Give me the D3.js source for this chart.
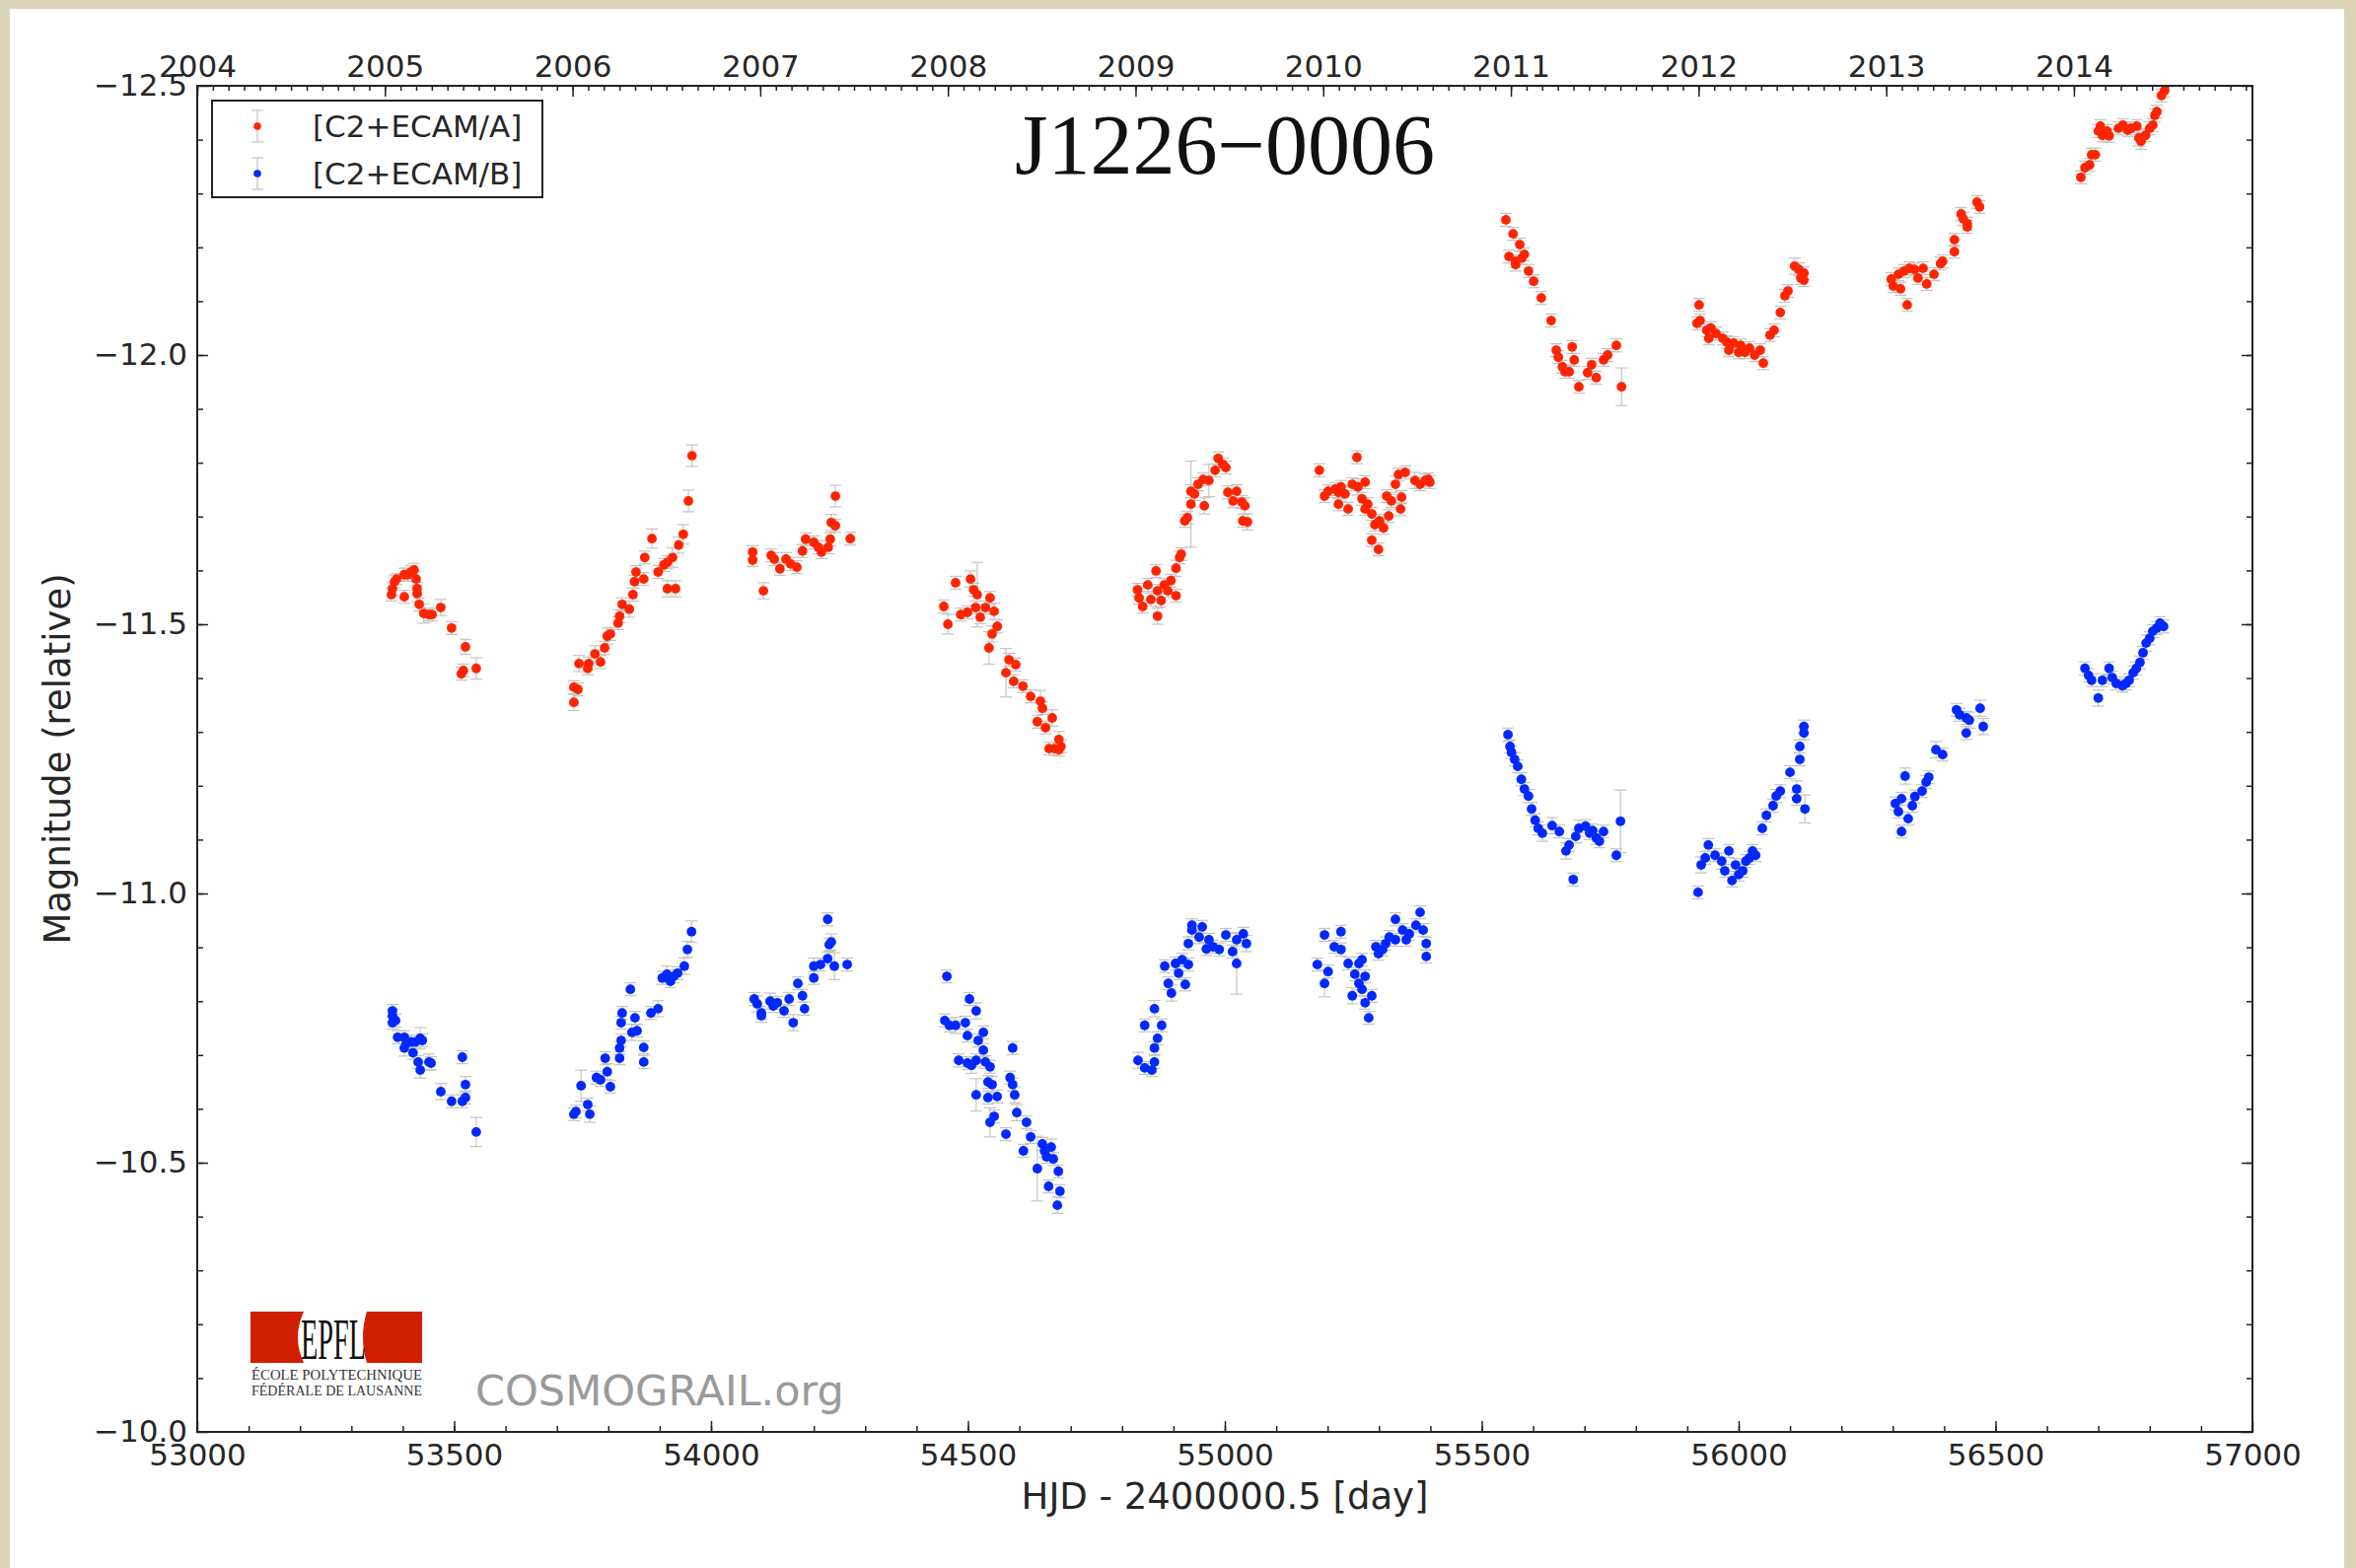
<!DOCTYPE html>
<html>
<head>
<meta charset="utf-8">
<script src="https://cdn.jsdelivr.net/npm/d3@7"></script>
<style>
  html, body { margin: 0; padding: 0; background: #dcd3b3; }
  svg { display: block; }
</style>
</head>
<body>
<svg id="chart" width="2389" height="1590"></svg>
<script>
// light curve of quasar image A: [HJD - 2400000.5, magnitude, error]
const imageA = [
  // 2005
  [53378,-11.555,0.012],[53380,-11.566,0.012],[53384,-11.579,0.012],[53388,-11.584,0.010],[53403,-11.592,0.012],
  [53409,-11.592,0.012],[53416,-11.597,0.012],[53422,-11.601,0.012],[53426,-11.584,0.015],[53403,-11.551,0.012],
  [53428,-11.566,0.012],[53428,-11.557,0.015],[53432,-11.537,0.012],[53441,-11.520,0.018],[53451,-11.518,0.012],
  [53457,-11.518,0.012],[53474,-11.531,0.015],[53495,-11.493,0.012],[53522,-11.458,0.014],[53514,-11.408,0.012],
  [53518,-11.414,0.012],[53543,-11.418,0.020],
  // 2006
  [53733,-11.355,0.015],[53733,-11.383,0.012],[53741,-11.379,0.012],[53743,-11.427,0.015],[53760,-11.418,0.012],
  [53762,-11.427,0.012],[53774,-11.445,0.015],[53785,-11.430,0.012],[53793,-11.456,0.012],[53798,-11.478,0.015],
  [53804,-11.482,0.012],[53819,-11.502,0.012],[53822,-11.515,0.012],[53827,-11.537,0.012],[53841,-11.528,0.015],
  [53848,-11.555,0.012],[53851,-11.579,0.012],[53854,-11.597,0.012],[53869,-11.584,0.012],[53871,-11.624,0.012],
  [53885,-11.659,0.018],[53897,-11.597,0.012],[53908,-11.610,0.012],[53915,-11.615,0.012],[53925,-11.624,0.018],
  [53915,-11.566,0.015],[53931,-11.566,0.015],[53937,-11.647,0.015],[53946,-11.667,0.018],[53956,-11.729,0.020],
  [53963,-11.813,0.020],
  // 2007
  [54081,-11.619,0.012],[54081,-11.634,0.012],[54102,-11.562,0.015],[54117,-11.628,0.012],[54123,-11.621,0.012],
  [54134,-11.603,0.012],[54146,-11.621,0.012],[54155,-11.612,0.012],[54167,-11.606,0.012],[54178,-11.636,0.012],
  [54184,-11.658,0.012],[54200,-11.652,0.012],[54209,-11.643,0.012],[54215,-11.634,0.012],[54228,-11.643,0.012],
  [54232,-11.658,0.012],[54234,-11.689,0.015],[54242,-11.683,0.012],[54242,-11.738,0.020],[54271,-11.659,0.012],
  // 2008
  [54453,-11.533,0.012],[54461,-11.500,0.018],[54476,-11.577,0.012],[54486,-11.518,0.012],[54499,-11.522,0.012],
  [54505,-11.584,0.015],[54511,-11.564,0.012],[54518,-11.555,0.060],[54515,-11.531,0.012],[54524,-11.513,0.012],
  [54534,-11.531,0.012],[54543,-11.549,0.012],[54551,-11.524,0.015],[54557,-11.496,0.012],[54547,-11.482,0.015],
  [54541,-11.456,0.030],[54580,-11.434,0.012],[54593,-11.425,0.012],[54574,-11.410,0.045],[54589,-11.394,0.012],
  [54607,-11.385,0.012],[54622,-11.366,0.012],[54641,-11.357,0.020],[54645,-11.344,0.012],[54664,-11.326,0.015],
  [54635,-11.319,0.012],[54651,-11.308,0.012],[54658,-11.269,0.012],[54677,-11.286,0.015],[54677,-11.267,0.012],
  [54668,-11.269,0.012],[54681,-11.273,0.012],
  // 2009
  [54830,-11.564,0.012],[54833,-11.549,0.012],[54840,-11.533,0.012],[54850,-11.573,0.012],[54856,-11.546,0.012],
  [54866,-11.599,0.012],[54869,-11.515,0.015],[54869,-11.562,0.012],[54876,-11.544,0.012],[54882,-11.573,0.012],
  [54889,-11.562,0.012],[54895,-11.581,0.012],[54905,-11.553,0.012],[54905,-11.604,0.015],[54912,-11.624,0.012],
  [54915,-11.630,0.012],[54922,-11.692,0.012],[54927,-11.698,0.012],[54934,-11.723,0.080],[54934,-11.747,0.012],
  [54941,-11.742,0.012],[54948,-11.760,0.012],[54960,-11.720,0.015],[54958,-11.769,0.012],[54969,-11.767,0.030],
  [54981,-11.786,0.012],[54987,-11.808,0.012],[54996,-11.797,0.012],[55002,-11.791,0.012],[55006,-11.745,0.012],
  [55023,-11.747,0.012],[55016,-11.729,0.012],[55033,-11.727,0.012],[55039,-11.720,0.015],[55035,-11.692,0.012],
  [55044,-11.690,0.015],
  // 2010
  [55184,-11.786,0.012],[55194,-11.738,0.012],[55201,-11.747,0.012],[55215,-11.751,0.012],[55221,-11.745,0.012],
  [55226,-11.755,0.012],[55234,-11.742,0.015],[55221,-11.723,0.012],[55240,-11.714,0.012],[55248,-11.760,0.012],
  [55257,-11.810,0.012],[55259,-11.755,0.015],[55267,-11.733,0.012],[55273,-11.764,0.012],[55273,-11.714,0.012],
  [55278,-11.723,0.012],[55286,-11.705,0.012],[55292,-11.685,0.012],[55286,-11.656,0.012],[55299,-11.639,0.012],
  [55301,-11.692,0.012],[55309,-11.679,0.012],[55319,-11.701,0.012],[55315,-11.738,0.012],[55324,-11.729,0.012],
  [55332,-11.760,0.015],[55338,-11.778,0.012],[55342,-11.714,0.012],[55344,-11.736,0.012],[55351,-11.782,0.012],
  [55370,-11.767,0.015],[55380,-11.760,0.012],[55390,-11.767,0.012],[55399,-11.764,0.012],[55396,-11.769,0.012],
  // 2011
  [55547,-12.251,0.012],[55561,-12.225,0.012],[55574,-12.205,0.012],[55553,-12.183,0.012],[55566,-12.174,0.012],
  [55583,-12.187,0.012],[55578,-12.180,0.012],[55566,-12.168,0.012],[55591,-12.156,0.012],[55601,-12.137,0.012],
  [55616,-12.106,0.012],[55635,-12.064,0.012],[55645,-12.009,0.012],[55649,-11.996,0.012],[55657,-11.978,0.012],
  [55662,-11.969,0.012],[55676,-12.015,0.012],[55680,-11.991,0.012],[55670,-11.969,0.012],[55689,-11.941,0.012],
  [55706,-11.967,0.012],[55714,-11.982,0.012],[55723,-11.958,0.012],[55737,-11.991,0.012],[55745,-12.000,0.012],
  [55762,-12.018,0.012],[55772,-11.941,0.035],
  // 2012
  [55923,-12.093,0.012],[55925,-12.064,0.012],[55919,-12.059,0.012],[55938,-12.046,0.012],[55946,-12.050,0.012],
  [55942,-12.031,0.012],[55956,-12.040,0.012],[55969,-12.031,0.012],[55977,-12.024,0.012],[55981,-12.009,0.012],
  [55990,-12.022,0.012],[56000,-12.005,0.012],[56004,-12.018,0.012],[56012,-12.005,0.012],[56021,-12.013,0.012],
  [56031,-12.000,0.012],[56042,-12.009,0.012],[56048,-11.985,0.012],[56061,-12.037,0.012],[56069,-12.046,0.012],
  [56081,-12.079,0.012],[56090,-12.110,0.012],[56096,-12.119,0.012],[56109,-12.165,0.015],[56117,-12.159,0.012],
  [56127,-12.152,0.012],[56121,-12.143,0.012],[56127,-12.139,0.012],
  // 2013
  [56297,-12.141,0.012],[56301,-12.128,0.012],[56311,-12.150,0.012],[56315,-12.123,0.012],[56322,-12.156,0.012],
  [56332,-12.161,0.012],[56328,-12.093,0.012],[56342,-12.159,0.012],[56349,-12.143,0.012],[56359,-12.161,0.012],
  [56366,-12.132,0.012],[56380,-12.150,0.012],[56393,-12.170,0.012],[56397,-12.174,0.012],[56420,-12.192,0.012],
  [56420,-12.214,0.012],[56433,-12.262,0.012],[56437,-12.253,0.012],[56445,-12.244,0.012],[56445,-12.238,0.012],
  [56464,-12.284,0.012],[56469,-12.275,0.012],
  // 2014
  [56666,-12.330,0.012],[56674,-12.348,0.012],[56683,-12.353,0.012],[56687,-12.372,0.012],[56694,-12.372,0.012],
  [56700,-12.416,0.012],[56704,-12.425,0.012],[56708,-12.408,0.012],[56717,-12.416,0.012],[56721,-12.407,0.012],
  [56739,-12.421,0.012],[56748,-12.427,0.012],[56757,-12.418,0.012],[56764,-12.421,0.012],[56775,-12.425,0.012],
  [56779,-12.403,0.015],[56783,-12.397,0.015],[56792,-12.408,0.012],[56800,-12.421,0.012],[56806,-12.427,0.012],
  [56810,-12.445,0.012],[56814,-12.452,0.012],[56823,-12.482,0.012],[56829,-12.491,0.012]
];

// light curve of quasar image B
const imageB = [
  // 2005
  [53380,-10.782,0.012],[53380,-10.773,0.012],[53386,-10.764,0.012],[53380,-10.760,0.012],[53390,-10.733,0.012],
  [53403,-10.733,0.012],[53407,-10.722,0.012],[53403,-10.713,0.015],[53416,-10.724,0.012],[53424,-10.724,0.012],
  [53434,-10.731,0.020],[53438,-10.727,0.012],[53420,-10.704,0.012],[53430,-10.687,0.012],[53434,-10.672,0.015],
  [53451,-10.687,0.015],[53455,-10.685,0.012],[53474,-10.632,0.015],[53495,-10.614,0.012],[53516,-10.696,0.012],
  [53522,-10.645,0.015],[53522,-10.621,0.012],[53516,-10.614,0.012],[53543,-10.557,0.027],
  // 2006
  [53733,-10.590,0.012],[53737,-10.595,0.012],[53760,-10.608,0.012],[53764,-10.590,0.015],[53747,-10.643,0.029],
  [53777,-10.658,0.012],[53785,-10.654,0.012],[53798,-10.669,0.015],[53804,-10.641,0.012],[53794,-10.694,0.012],
  [53822,-10.694,0.012],[53822,-10.713,0.012],[53825,-10.727,0.012],[53825,-10.760,0.012],[53827,-10.778,0.012],
  [53843,-10.822,0.012],[53846,-10.742,0.015],[53852,-10.769,0.012],[53856,-10.745,0.012],[53869,-10.714,0.012],
  [53869,-10.687,0.012],[53883,-10.778,0.012],[53897,-10.786,0.015],[53905,-10.843,0.012],[53914,-10.850,0.015],
  [53921,-10.837,0.012],[53927,-10.846,0.012],[53935,-10.852,0.012],[53948,-10.865,0.015],[53954,-10.896,0.015],
  [53962,-10.929,0.020],
  // 2007
  [54084,-10.804,0.012],[54090,-10.795,0.015],[54098,-10.778,0.012],[54098,-10.773,0.012],[54115,-10.800,0.015],
  [54121,-10.791,0.012],[54129,-10.797,0.012],[54142,-10.782,0.012],[54152,-10.804,0.012],[54160,-10.760,0.015],
  [54169,-10.833,0.012],[54178,-10.810,0.012],[54182,-10.786,0.012],[54200,-10.865,0.015],[54200,-10.843,0.012],
  [54213,-10.868,0.012],[54227,-10.879,0.012],[54230,-10.905,0.012],[54234,-10.910,0.015],[54240,-10.865,0.025],
  [54227,-10.952,0.012],[54265,-10.868,0.012],
  // 2008
  [54459,-10.846,0.012],[54455,-10.764,0.012],[54464,-10.755,0.012],[54476,-10.755,0.015],[54495,-10.760,0.012],
  [54499,-10.736,0.012],[54503,-10.804,0.012],[54516,-10.782,0.015],[54482,-10.690,0.012],[54499,-10.685,0.012],
  [54507,-10.681,0.015],[54516,-10.690,0.012],[54530,-10.709,0.012],[54534,-10.687,0.012],[54543,-10.678,0.012],
  [54520,-10.727,0.012],[54530,-10.742,0.012],[54539,-10.650,0.012],[54547,-10.645,0.015],[54516,-10.626,0.030],
  [54539,-10.621,0.012],[54557,-10.623,0.012],[54543,-10.575,0.027],[54551,-10.586,0.012],[54574,-10.553,0.012],
  [54582,-10.658,0.012],[54587,-10.645,0.012],[54591,-10.626,0.015],[54587,-10.713,0.012],[54595,-10.593,0.015],
  [54614,-10.575,0.012],[54622,-10.548,0.012],[54608,-10.522,0.012],[54635,-10.489,0.060],[54645,-10.535,0.012],
  [54649,-10.522,0.012],[54653,-10.511,0.012],[54662,-10.529,0.015],[54666,-10.507,0.012],[54657,-10.456,0.012],
  [54676,-10.484,0.012],[54679,-10.447,0.012],[54674,-10.421,0.015],
  // 2009
  [54831,-10.690,0.015],[54844,-10.676,0.012],[54858,-10.672,0.012],[54863,-10.687,0.012],[54863,-10.713,0.012],
  [54869,-10.731,0.012],[54877,-10.755,0.012],[54863,-10.786,0.015],[54844,-10.755,0.012],[54890,-10.833,0.012],
  [54896,-10.815,0.015],[54883,-10.865,0.012],[54904,-10.870,0.012],[54917,-10.877,0.012],[54929,-10.868,0.012],
  [54910,-10.852,0.012],[54923,-10.831,0.012],[54929,-10.907,0.012],[54936,-10.932,0.012],[54936,-10.941,0.012],
  [54956,-10.938,0.012],[54950,-10.919,0.012],[54969,-10.914,0.012],[54964,-10.897,0.012],[54977,-10.901,0.012],
  [54989,-10.896,0.012],[55002,-10.923,0.012],[55023,-10.914,0.012],[55036,-10.925,0.012],[55042,-10.907,0.015],
  [55015,-10.892,0.012],[55023,-10.870,0.057],
  // 2010
  [55180,-10.868,0.012],[55194,-10.833,0.025],[55194,-10.923,0.012],[55201,-10.855,0.012],[55226,-10.929,0.012],
  [55213,-10.901,0.012],[55226,-10.896,0.012],[55240,-10.870,0.012],[55248,-10.810,0.015],[55253,-10.850,0.012],
  [55261,-10.833,0.012],[55261,-10.870,0.012],[55267,-10.877,0.012],[55267,-10.822,0.012],[55273,-10.797,0.012],
  [55280,-10.769,0.012],[55273,-10.846,0.012],[55286,-10.810,0.012],[55294,-10.901,0.012],[55299,-10.888,0.012],
  [55307,-10.896,0.012],[55313,-10.907,0.012],[55320,-10.919,0.012],[55332,-10.914,0.012],[55332,-10.952,0.012],
  [55346,-10.932,0.012],[55353,-10.914,0.012],[55359,-10.925,0.012],[55372,-10.941,0.012],[55380,-10.965,0.012],
  [55386,-10.932,0.012],[55392,-10.907,0.012],[55392,-10.883,0.012],
  // 2011
  [55551,-11.295,0.012],[55555,-11.273,0.012],[55558,-11.262,0.012],[55564,-11.249,0.012],[55570,-11.236,0.012],
  [55577,-11.212,0.012],[55583,-11.194,0.012],[55591,-11.181,0.012],[55597,-11.157,0.012],[55604,-11.136,0.012],
  [55610,-11.121,0.012],[55618,-11.112,0.015],[55637,-11.126,0.015],[55651,-11.115,0.012],[55664,-11.079,0.015],
  [55670,-11.090,0.012],[55678,-11.026,0.012],[55683,-11.106,0.012],[55689,-11.121,0.015],[55702,-11.125,0.012],
  [55710,-11.112,0.012],[55716,-11.117,0.012],[55723,-11.103,0.012],[55729,-11.097,0.012],[55737,-11.115,0.012],
  [55762,-11.071,0.012],[55770,-11.134,0.058],
  // 2012
  [55921,-11.002,0.012],[55927,-11.053,0.015],[55935,-11.066,0.012],[55941,-11.090,0.012],[55954,-11.071,0.012],
  [55967,-11.060,0.015],[55973,-11.042,0.012],[55981,-11.079,0.012],[55987,-11.024,0.012],[55994,-11.053,0.012],
  [56000,-11.035,0.012],[56008,-11.042,0.012],[56014,-11.060,0.012],[56021,-11.066,0.012],[56027,-11.079,0.012],
  [56033,-11.071,0.012],[56046,-11.121,0.012],[56054,-11.145,0.012],[56067,-11.163,0.012],[56073,-11.181,0.012],
  [56081,-11.190,0.012],[56100,-11.225,0.012],[56113,-11.194,0.015],[56113,-11.176,0.012],[56119,-11.249,0.012],
  [56119,-11.273,0.012],[56127,-11.298,0.012],[56127,-11.310,0.012],[56129,-11.157,0.026],
  // 2013
  [56305,-11.167,0.012],[56311,-11.152,0.012],[56317,-11.176,0.012],[56317,-11.115,0.012],[56324,-11.218,0.015],
  [56330,-11.139,0.012],[56338,-11.163,0.012],[56343,-11.180,0.012],[56357,-11.190,0.012],[56365,-11.207,0.012],
  [56370,-11.216,0.012],[56384,-11.267,0.015],[56397,-11.258,0.012],[56424,-11.341,0.012],[56430,-11.332,0.012],
  [56443,-11.326,0.012],[56449,-11.322,0.015],[56443,-11.298,0.012],[56470,-11.344,0.015],[56476,-11.310,0.015],
  // 2014
  [56674,-11.418,0.012],[56681,-11.405,0.012],[56687,-11.396,0.012],[56700,-11.363,0.015],[56708,-11.396,0.012],
  [56721,-11.418,0.012],[56727,-11.401,0.012],[56735,-11.390,0.012],[56747,-11.386,0.012],[56754,-11.390,0.012],
  [56760,-11.396,0.012],[56768,-11.410,0.012],[56774,-11.418,0.012],[56781,-11.429,0.012],[56787,-11.447,0.012],
  [56793,-11.465,0.015],[56800,-11.474,0.012],[56806,-11.487,0.012],[56814,-11.493,0.012],[56820,-11.502,0.012],
  [56827,-11.496,0.012]
];

const seriesNames = ["[C2+ECAM/A]", "[C2+ECAM/B]"];
const seriesColors = ["#ff2400", "#0028ff"];

const xTickValues = [53000, 53500, 54000, 54500, 55000, 55500, 56000, 56500, 57000];
const xTickLabels = ["53000", "53500", "54000", "54500", "55000", "55500", "56000", "56500", "57000"];
const yTickValues = [-12.5, -12.0, -11.5, -11.0, -10.5, -10.0];
const yTickLabels = ["\u221212.5", "\u221212.0", "\u221211.5", "\u221211.0", "\u221210.5", "\u221210.0"];
const yearTickValues = [2004, 2005, 2006, 2007, 2008, 2009, 2010, 2011, 2012, 2013, 2014];
const yearTickLabels = ["2004", "2005", "2006", "2007", "2008", "2009", "2010", "2011", "2012", "2013", "2014"];

const svg = d3.select("#chart");
const W = 2389, H = 1590;
const plotL = 200, plotR = 2284, plotT = 87, plotB = 1452;

// page background: parchment border + white sheet
svg.append("rect").attr("width", W).attr("height", H).attr("fill", "#ddd5b8");
svg.append("rect").attr("x", 10).attr("y", 9).attr("width", 2367).attr("height", H - 9).attr("fill", "#ffffff");

const x = d3.scaleLinear().domain([53000, 57000]).range([plotL, plotR]);
const xYear = d3.scaleLinear().domain([2004, 2004 + 4000 / 365.25]).range([plotL, plotR]);
const y = d3.scaleLinear().domain([-12.5, -10.0]).range([plotT, plotB]);

svg.append("clipPath").attr("id", "plotclip")
  .append("rect").attr("x", plotL).attr("y", plotT).attr("width", plotR - plotL).attr("height", plotB - plotT);

function styleAxis(g) {
  g.select(".domain").remove();
  g.selectAll(".tick line").attr("stroke", "#222").attr("stroke-width", 1.5);
  g.selectAll(".tick text")
    .attr("fill", "#262626")
    .style("font-family", "'DejaVu Sans', sans-serif")
    .style("font-size", "31px");
}

// bottom axis
svg.append("g").attr("transform", `translate(0,${plotB})`)
  .call(d3.axisBottom(x).tickValues(d3.range(53100, 57000, 100)).tickSize(-6).tickFormat(""))
  .call(styleAxis);
svg.append("g").attr("transform", `translate(0,${plotB})`)
  .call(d3.axisBottom(x).tickValues(xTickValues).tickSize(-11).tickPadding(12)
    .tickFormat((d, i) => xTickLabels[i]))
  .call(styleAxis);

// top axis (calendar years)
const months = d3.range(0, 132).map(i => 2004 + i / 12).filter(v => v < xYear.domain()[1]);
svg.append("g").attr("transform", `translate(0,${plotT})`)
  .call(d3.axisTop(xYear).tickValues(months).tickSize(-5).tickFormat(""))
  .call(styleAxis);
svg.append("g").attr("transform", `translate(0,${plotT})`)
  .call(d3.axisTop(xYear).tickValues(yearTickValues).tickSize(-11).tickPadding(9)
    .tickFormat((d, i) => yearTickLabels[i]))
  .call(styleAxis);

// left / right axes
const yMinor = d3.range(1, 25).map(i => -12.5 + i * 0.1);
svg.append("g").attr("transform", `translate(${plotL},0)`)
  .call(d3.axisLeft(y).tickValues(yMinor).tickSize(-6).tickFormat(""))
  .call(styleAxis);
svg.append("g").attr("transform", `translate(${plotL},0)`)
  .call(d3.axisLeft(y).tickValues(yTickValues).tickSize(-11).tickPadding(10)
    .tickFormat((d, i) => yTickLabels[i]))
  .call(styleAxis);
svg.append("g").attr("transform", `translate(${plotR},0)`)
  .call(d3.axisRight(y).tickValues(yMinor).tickSize(-6).tickFormat(""))
  .call(styleAxis);
svg.append("g").attr("transform", `translate(${plotR},0)`)
  .call(d3.axisRight(y).tickValues(yTickValues).tickSize(-11).tickFormat(""))
  .call(styleAxis);

// data with error bars
const plot = svg.append("g").attr("clip-path", "url(#plotclip)");
[imageA, imageB].forEach(function (series, k) {
  const g = plot.append("g");
  const bars = g.selectAll("g.err").data(series).enter().append("g").attr("class", "err")
    .attr("stroke", "#c4c4c4").attr("stroke-width", 1.2);
  bars.append("line")
    .attr("x1", d => x(d[0])).attr("x2", d => x(d[0]))
    .attr("y1", d => y(d[1] - d[2])).attr("y2", d => y(d[1] + d[2]));
  bars.append("line")
    .attr("x1", d => x(d[0]) - 6).attr("x2", d => x(d[0]) + 6)
    .attr("y1", d => y(d[1] - d[2])).attr("y2", d => y(d[1] - d[2]));
  bars.append("line")
    .attr("x1", d => x(d[0]) - 6).attr("x2", d => x(d[0]) + 6)
    .attr("y1", d => y(d[1] + d[2])).attr("y2", d => y(d[1] + d[2]));
  g.selectAll("circle").data(series).enter().append("circle")
    .attr("cx", d => x(d[0]))
    .attr("cy", d => y(d[1]))
    .attr("r", 4.9)
    .attr("fill", seriesColors[k]);
});

// frame
svg.append("rect").attr("x", plotL).attr("y", plotT)
  .attr("width", plotR - plotL).attr("height", plotB - plotT)
  .attr("fill", "none").attr("stroke", "#222").attr("stroke-width", 2);

// axis labels
svg.append("text")
  .attr("x", (plotL + plotR) / 2).attr("y", 1530)
  .attr("text-anchor", "middle")
  .style("font-family", "'DejaVu Sans', sans-serif").style("font-size", "37px")
  .attr("fill", "#262626")
  .text("HJD - 2400000.5 [day]");
svg.append("text")
  .attr("transform", `translate(71,${(plotT + plotB) / 2}) rotate(-90)`)
  .attr("text-anchor", "middle")
  .style("font-family", "'DejaVu Sans', sans-serif").style("font-size", "37px")
  .attr("fill", "#262626")
  .text("Magnitude (relative)");

// title
svg.append("text")
  .attr("x", (plotL + plotR) / 2).attr("y", 176)
  .attr("text-anchor", "middle")
  .style("font-family", "'Liberation Serif', serif").style("font-size", "86px")
  .attr("fill", "#111")
  .text("J1226\u22120006");

// legend
const legend = svg.append("g");
legend.append("rect").attr("x", 215).attr("y", 102).attr("width", 335).attr("height", 98)
  .attr("fill", "#fff").attr("stroke", "#222").attr("stroke-width", 2);
seriesNames.forEach(function (name, i) {
  const cy = 128 + i * 48;
  const e = legend.append("g").attr("stroke", "#c4c4c4").attr("stroke-width", 1.2);
  e.append("line").attr("x1", 261).attr("x2", 261).attr("y1", cy - 16).attr("y2", cy + 16);
  e.append("line").attr("x1", 255).attr("x2", 267).attr("y1", cy - 16).attr("y2", cy - 16);
  e.append("line").attr("x1", 255).attr("x2", 267).attr("y1", cy + 16).attr("y2", cy + 16);
  legend.append("circle").attr("cx", 261).attr("cy", cy).attr("r", 3.8).attr("fill", seriesColors[i]);
  legend.append("text").attr("x", 317).attr("y", cy).attr("dy", "0.36em")
    .style("font-family", "'DejaVu Sans', sans-serif").style("font-size", "31px")
    .attr("fill", "#262626")
    .text(name);
});

// EPFL logo + credit
const logo = svg.append("g");
logo.append("rect").attr("x", 254).attr("y", 1330).attr("width", 174).attr("height", 52).attr("fill", "#d21e00");
logo.append("path")
  .attr("d", "M308,1330 Q296,1356 308,1382 L372,1382 Q364,1356 372,1330 Z")
  .attr("fill", "#fff");
logo.append("text").attr("x", 305).attr("y", 1378)
  .attr("textLength", 66).attr("lengthAdjust", "spacingAndGlyphs")
  .style("font-family", "'Liberation Serif', serif").style("font-size", "60px")
  .attr("fill", "#111")
  .text("EPFL");
logo.append("text").attr("x", 255).attr("y", 1399)
  .attr("textLength", 173).attr("lengthAdjust", "spacingAndGlyphs")
  .style("font-family", "'Liberation Serif', serif").style("font-size", "14px")
  .attr("fill", "#333")
  .text("ÉCOLE POLYTECHNIQUE");
logo.append("text").attr("x", 255).attr("y", 1415)
  .attr("textLength", 173).attr("lengthAdjust", "spacingAndGlyphs")
  .style("font-family", "'Liberation Serif', serif").style("font-size", "14px")
  .attr("fill", "#333")
  .text("FÉDÉRALE DE LAUSANNE");
svg.append("text").attr("x", 482).attr("y", 1425)
  .style("font-family", "'DejaVu Sans', sans-serif").style("font-size", "43px")
  .attr("fill", "#9a9a9a")
  .text("COSMOGRAIL.org");
</script>
</body>
</html>
